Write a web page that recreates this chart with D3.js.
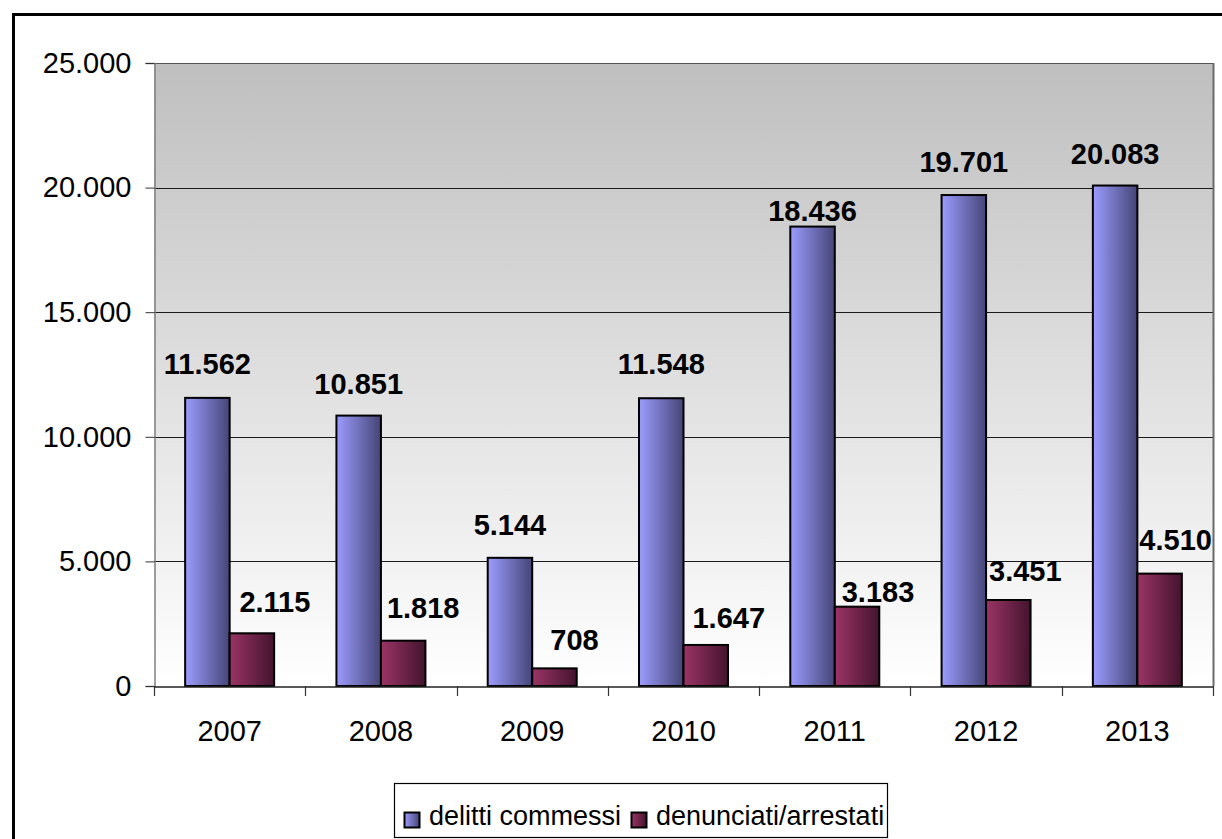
<!DOCTYPE html>
<html>
<head>
<meta charset="utf-8">
<script src="https://cdn.jsdelivr.net/npm/d3@7"></script>
<style>
  html, body { margin: 0; padding: 0; background: #fff; }
  svg { display: block; font-family: "Liberation Sans", Arial, sans-serif; }
</style>
</head>
<body>
<svg id="chart" width="1222" height="839"></svg>
<script>
// Anni e serie
const years = ["2007", "2008", "2009", "2010", "2011", "2012", "2013"];
const seriesNames = ["delitti commessi", "denunciati/arrestati"];
const delitti = [11562, 10851, 5144, 11548, 18436, 19701, 20083];
const denunciati = [2115, 1818, 708, 1647, 3183, 3451, 4510];
const yTicks = [0, 5000, 10000, 15000, 20000, 25000];

// Spostamenti manuali delle etichette dati (px): distanza sopra la barra e scarto orizzontale
const labelGapDelitti = [24, 22, 23, 24, 6, 23, 22];
const labelGapDenunciati = [21, 23, 18, 17, 5, 19, 24];
const labelShiftDenunciati = [23, 20, 20, 23, 21, 17, 16];

const fmt = v => d3.format(",")(v).replace(/,/g, ".");

const svg = d3.select("#chart");
const defs = svg.append("defs");

// Sfondo area del grafico: grigio in alto, bianco in basso
const bg = defs.append("linearGradient").attr("id", "bgGrad")
  .attr("x1", 0).attr("y1", 0).attr("x2", 0).attr("y2", 1);
bg.append("stop").attr("offset", "0%").attr("stop-color", "#bfbfbf");
bg.append("stop").attr("offset", "100%").attr("stop-color", "#ffffff");

function hGrad(id, c0, c1) {
  const g = defs.append("linearGradient").attr("id", id)
    .attr("x1", 0).attr("y1", 0).attr("x2", 1).attr("y2", 0);
  g.append("stop").attr("offset", "0%").attr("stop-color", c0);
  g.append("stop").attr("offset", "100%").attr("stop-color", c1);
}
hGrad("gBlue", "#9c9cff", "#454577");
hGrad("gRed", "#9b3466", "#43142d");

const plotL = 154, plotR = 1213, plotT = 63, plotB = 686;

const x0 = d3.scaleBand().domain(years).range([plotL, plotR]).padding(0);
const x1 = d3.scaleBand().domain(seriesNames).range([0, x0.bandwidth()])
  .paddingInner(0).paddingOuter(0.7);
const y = d3.scaleLinear().domain([0, 25000]).range([plotB, plotT]);

// Cornice esterna
svg.append("rect").attr("x", 13.5).attr("y", 14.5)
  .attr("width", 1300).attr("height", 900)
  .attr("fill", "#fff").attr("stroke", "#000").attr("stroke-width", 3);

// Area del grafico
svg.append("rect").attr("x", plotL).attr("y", plotT)
  .attr("width", plotR - plotL).attr("height", plotB - plotT)
  .attr("fill", "url(#bgGrad)");

// Griglia
svg.append("g").selectAll("line").data(yTicks.filter(v => v > 0)).join("line")
  .attr("x1", plotL).attr("x2", plotR)
  .attr("y1", d => Math.round(y(d)) + 0.5).attr("y2", d => Math.round(y(d)) + 0.5)
  .attr("stroke", d => d === 25000 ? "#555" : "#1a1a1a").attr("stroke-width", 1);

// Bordo destro dell'area
svg.append("line").attr("x1", plotR + 0.5).attr("x2", plotR + 0.5)
  .attr("y1", plotT).attr("y2", plotB)
  .attr("stroke", "#6b6b6b").attr("stroke-width", 2);

// Asse Y
const yAxis = d3.axisLeft(y).tickValues(yTicks).tickFormat(fmt)
  .tickSize(9).tickPadding(14);
const gy = svg.append("g").attr("transform", `translate(${plotL + 0.5},0)`).call(yAxis);
gy.select(".domain").attr("stroke", "#808080").attr("stroke-width", 1.5);
gy.selectAll(".tick line").attr("stroke", "#333");
gy.selectAll(".tick text").attr("font-size", 29).attr("fill", "#000")
  .attr("font-family", "'Liberation Sans', Arial, sans-serif");

// Barre
const groups = svg.append("g").selectAll("g").data(years).join("g")
  .attr("transform", d => `translate(${x0(d)},0)`);

groups.append("rect")
  .attr("x", x1(seriesNames[0]))
  .attr("y", (d, i) => y(delitti[i]))
  .attr("width", x1.bandwidth())
  .attr("height", (d, i) => y(0) - y(delitti[i]))
  .attr("fill", "url(#gBlue)").attr("stroke", "#000").attr("stroke-width", 2);

groups.append("rect")
  .attr("x", x1(seriesNames[1]))
  .attr("y", (d, i) => y(denunciati[i]))
  .attr("width", x1.bandwidth())
  .attr("height", (d, i) => y(0) - y(denunciati[i]))
  .attr("fill", "url(#gRed)").attr("stroke", "#000").attr("stroke-width", 2);

// Asse X
const xAxis = d3.axisBottom(x0).tickSize(0).tickPadding(34);
const gx = svg.append("g").attr("transform", `translate(0,${plotB + 0.5})`).call(xAxis);
gx.select(".domain").attr("stroke", "#222").attr("stroke-width", 1.5);
gx.selectAll(".tick text").attr("font-size", 29).attr("fill", "#000")
  .attr("font-family", "'Liberation Sans', Arial, sans-serif");
// Tacche tra le categorie
svg.append("g").selectAll("line").data(years.concat(["end"])).join("line")
  .attr("x1", (d, i) => Math.round(plotL + i * x0.step()) + 0.5)
  .attr("x2", (d, i) => Math.round(plotL + i * x0.step()) + 0.5)
  .attr("y1", plotB).attr("y2", plotB + 10)
  .attr("stroke", "#333").attr("stroke-width", 1.2);

// Etichette dati
const lab = svg.append("g").attr("font-size", 29).attr("font-weight", "bold").attr("fill", "#000");
lab.selectAll("text.b").data(years).join("text").attr("class", "b")
  .attr("text-anchor", "middle")
  .attr("x", (d, i) => x0(d) + x1(seriesNames[0]) + x1.bandwidth() / 2)
  .attr("y", (d, i) => y(delitti[i]) - labelGapDelitti[i])
  .text((d, i) => fmt(delitti[i]));
lab.selectAll("text.r").data(years).join("text").attr("class", "r")
  .attr("text-anchor", "middle")
  .attr("x", (d, i) => x0(d) + x1(seriesNames[1]) + x1.bandwidth() / 2 + labelShiftDenunciati[i])
  .attr("y", (d, i) => y(denunciati[i]) - labelGapDenunciati[i])
  .text((d, i) => fmt(denunciati[i]));

// Legenda
const leg = svg.append("g");
leg.append("rect").attr("x", 394.5).attr("y", 783.5).attr("width", 493).attr("height", 54)
  .attr("fill", "#fff").attr("stroke", "#000").attr("stroke-width", 1.2);
const legX = [404, 631];
const legFill = ["url(#gBlue)", "url(#gRed)"];
seriesNames.forEach((name, i) => {
  leg.append("rect").attr("x", legX[i] + 0.5).attr("y", 812.5).attr("width", 15).attr("height", 15)
    .attr("fill", legFill[i]).attr("stroke", "#000").attr("stroke-width", 2);
  leg.append("text").attr("x", legX[i] + 25).attr("y", 825)
    .attr("font-size", 27).attr("fill", "#000").text(name);
});
</script>
</body>
</html>
